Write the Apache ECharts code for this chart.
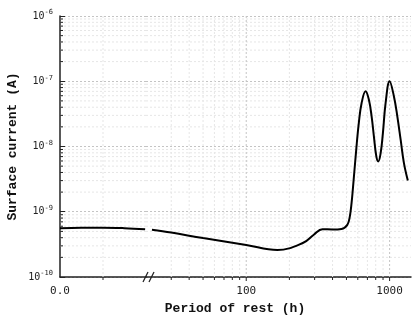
<!DOCTYPE html>
<html lang="en">
<head>
  <meta charset="UTF-8">
  <title>surface current</title>
  <style>
    * { padding: 0; margin: 0; }
    #charts { width: 412px; height: 320px; }
  </style>
</head>
<body>
  <div id="charts"></div>
</body>
<script src="https://cdn.jsdelivr.net/npm/echarts@6/dist/echarts.min.js"></script>
<script type="text/javascript">
  // left (linear, before the break) segment
  var leftHours = [0, 5, 10, 15, 19.8]
  var leftCurrent = [5.6e-10, 5.7e-10, 5.7e-10, 5.6e-10, 5.4e-10]
  // right (log) segment
  var rightHours = [22, 30, 50, 100, 165, 250, 296, 340, 400, 462, 507, 528, 543, 555, 585, 610,
    638, 680, 717, 749, 777, 808, 834, 866, 898, 938, 1000, 1072, 1132, 1194, 1258, 1340]
  var rightCurrent = [5.3e-10, 4.8e-10, 3.95e-10, 3.1e-10, 2.6e-10, 3.35e-10, 4.45e-10, 5.4e-10,
    5.35e-10, 5.45e-10, 6.3e-10, 8.5e-10, 1.37e-9, 2.3e-9, 8.9e-9, 2.3e-8, 4.65e-8, 7.0e-8, 5.2e-8,
    2.9e-8, 1.43e-8, 7.05e-9, 5.9e-9, 7.9e-9, 1.6e-8, 4.65e-8, 1.0e-7, 5.85e-8, 2.9e-8, 1.27e-8,
    5.6e-9, 3.0e-9]

  var yDecades = [1e-10, 1e-9, 1e-8, 1e-7]
  var minorSteps = [2, 3, 4, 5, 6, 7, 8, 9]
  var xMajorLog = [100, 1000]
  var xMinorLog = [30, 40, 50, 60, 70, 80, 90, 200, 300, 400, 500, 600, 700, 800, 900]
  var xLeftTicks = [10]
  var xLabelsLeft = [0]

  var yMinor = []
  yDecades.forEach(function (d) {
    minorSteps.forEach(function (m) { yMinor.push(d * m) })
  })

  var MAJOR = '#c4c4c4', MINOR = '#e6e6e6'

  function supLabel(v) {
    var e = Math.round(Math.log10(v))
    return '10{s|' + e + '}'
  }

  // horizontal lines across a grid
  function hLines(idx, xRef, vals, color) {
    return {
      type: 'custom', xAxisIndex: idx, yAxisIndex: idx, silent: true, z: 1,
      data: vals.map(function (v) { return [xRef, v] }),
      renderItem: function (params, api) {
        var cs = params.coordSys
        var y = api.coord([api.value(0), api.value(1)])[1]
        return { type: 'line', shape: { x1: cs.x, y1: y, x2: cs.x + cs.width, y2: y },
          style: { stroke: color, lineWidth: 1, lineDash: [2, 2] } }
      }
    }
  }
  // vertical lines across a grid
  function vLines(idx, yRef, vals, color) {
    return {
      type: 'custom', xAxisIndex: idx, yAxisIndex: idx, silent: true, z: 1,
      data: vals.map(function (v) { return [v, yRef] }),
      renderItem: function (params, api) {
        var cs = params.coordSys
        var x = api.coord([api.value(0), api.value(1)])[0]
        return { type: 'line', shape: { x1: x, y1: cs.y, x2: x, y2: cs.y + cs.height },
          style: { stroke: color, lineWidth: 1, lineDash: [2, 2] } }
      }
    }
  }
  // short ticks below the x axis
  function xTicks(idx, yRef, vals, len) {
    return {
      type: 'custom', xAxisIndex: idx, yAxisIndex: idx, silent: true, z: 5,
      data: vals.map(function (v) { return [v, yRef] }),
      renderItem: function (params, api) {
        var cs = params.coordSys
        var x = api.coord([api.value(0), api.value(1)])[0]
        var y0 = cs.y + cs.height
        return { type: 'line', shape: { x1: x, y1: y0, x2: x, y2: y0 + len },
          style: { stroke: '#222', lineWidth: 1 } }
      }
    }
  }
  // minor ticks inside the y axis
  function yTicks(idx, xRef, vals, len) {
    return {
      type: 'custom', xAxisIndex: idx, yAxisIndex: idx, silent: true, z: 5,
      data: vals.map(function (v) { return [xRef, v] }),
      renderItem: function (params, api) {
        var cs = params.coordSys
        var y = api.coord([api.value(0), api.value(1)])[1]
        return { type: 'line', shape: { x1: cs.x, y1: y, x2: cs.x + len, y2: y },
          style: { stroke: '#222', lineWidth: 1 } }
      }
    }
  }

  var labelFont = { fontFamily: 'DejaVu Sans Mono', fontSize: 10, color: '#222' }
  var yAxisBase = {
    type: 'log', logBase: 10, min: 1e-10, max: 1e-6,
    splitLine: { show: true, lineStyle: { color: MAJOR, type: [2, 2], width: 1 } }
  }

  var myChart = echarts.init(document.getElementById('charts'))
  var option = {
    animation: false,
    grid: [
      { left: 60, top: 16, width: 86, height: 261 },
      { left: 146, top: 16, right: 1, height: 261 }
    ],
    xAxis: [
      {
        type: 'value', gridIndex: 0, min: 0, max: 20, interval: 10,
        axisLine: { lineStyle: { color: '#222', width: 1.5 } },
        axisTick: { show: false },
        splitLine: { show: false },
        axisLabel: Object.assign({}, labelFont, { fontSize: 11, margin: 9,
          formatter: function (v) { return xLabelsLeft.indexOf(v) >= 0 ? v.toFixed(1) : '' } })
      },
      {
        type: 'log', logBase: 10, gridIndex: 1, min: 20, max: 1410,
        axisLine: { lineStyle: { color: '#222', width: 1.5 } },
        axisTick: { show: false },
        splitLine: { show: false },
        axisLabel: Object.assign({}, labelFont, { fontSize: 11, margin: 9,
          showMinLabel: false, showMaxLabel: false,
          formatter: function (v) {
            var r = Math.round(v)
            return xMajorLog.indexOf(r) >= 0 ? String(r) : ''
          } })
      }
    ],
    yAxis: [
      Object.assign({}, yAxisBase, {
        gridIndex: 0,
        name: 'Surface current (A)', nameLocation: 'middle', nameGap: 41, nameRotate: 90,
        nameTextStyle: { fontFamily: 'Liberation Mono', fontWeight: 'bold', fontSize: 13, color: '#111' },
        axisLine: { show: true, lineStyle: { color: '#222', width: 1.5 } },
        axisTick: { show: true, inside: true, length: 5, lineStyle: { color: '#222' } },
        axisLabel: Object.assign({}, labelFont, {
          margin: 7,
          formatter: supLabel,
          rich: { s: { fontFamily: 'DejaVu Sans Mono', fontSize: 7, color: '#222', padding: [0, 0, 7, 0] } }
        })
      }),
      Object.assign({}, yAxisBase, {
        gridIndex: 1,
        axisLine: { show: false }, axisTick: { show: false }, axisLabel: { show: false }
      })
    ],
    graphic: [
      { type: 'text', x: 235, y: 309, style: { text: 'Period of rest (h)', fontFamily: 'Liberation Mono',
        fontWeight: 'bold', fontSize: 13, fill: '#111', align: 'center', verticalAlign: 'middle' } },
      { type: 'line', shape: { x1: 143, y1: 282, x2: 148, y2: 272 }, style: { stroke: '#222', lineWidth: 1.3 }, z: 10 },
      { type: 'line', shape: { x1: 149, y1: 282, x2: 154, y2: 272 }, style: { stroke: '#222', lineWidth: 1.3 }, z: 10 }
    ],
    series: [
      hLines(0, 0, yMinor, MINOR),
      hLines(1, 100, yMinor, MINOR),
      vLines(0, 1e-9, xLeftTicks, MINOR),
      vLines(1, 1e-9, xMinorLog, MINOR),
      vLines(1, 1e-9, xMajorLog, MAJOR),
      xTicks(0, 1e-9, xLeftTicks, 3),
      xTicks(1, 1e-9, xMinorLog, 3),
      xTicks(1, 1e-9, xMajorLog, 4),
      yTicks(0, 0, yMinor, 3),
      {
        name: 'left', type: 'line', xAxisIndex: 0, yAxisIndex: 0, z: 4,
        smooth: 0.4, showSymbol: false, symbol: 'none',
        lineStyle: { color: '#000', width: 2 },
        data: leftHours.map(function (h, i) { return [h, leftCurrent[i]] })
      },
      {
        name: 'right', type: 'line', xAxisIndex: 1, yAxisIndex: 1, z: 4,
        smooth: 0.4, showSymbol: false, symbol: 'none',
        lineStyle: { color: '#000', width: 2 },
        data: rightHours.map(function (h, i) { return [h, rightCurrent[i]] })
      }
    ]
  }
  myChart.setOption(option)
</script>
</html>
